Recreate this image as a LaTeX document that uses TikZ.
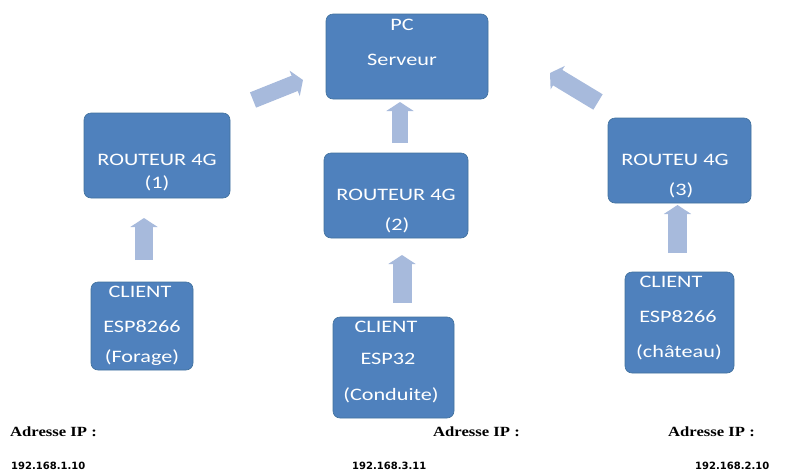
\documentclass[tikz,border=0pt]{standalone}
\usepackage{fontspec}
\usetikzlibrary{arrows.meta}
\newfontfamily\bxfont[FakeStretch=1.27]{Carlito}
\newfontfamily\adrfont[FakeStretch=1.19]{Liberation Serif}
\newfontfamily\ipfont{DejaVu Sans}
\definecolor{boxblue}{HTML}{4F81BD}
\definecolor{boxedge}{HTML}{41719C}
\definecolor{arrowblue}{HTML}{A7BADC}
\tikzset{
  box/.style={draw=boxedge, line width=0.6pt, fill=boxblue, rounded corners=7pt, inner sep=0pt},
  btxt/.style={text=white, font=\bxfont\fontsize{17.5}{20}\selectfont, inner sep=0pt},
  adr/.style={font=\adrfont\bfseries\fontsize{14}{16}\selectfont, inner sep=0pt},
  ip/.style={font=\ipfont\bfseries\fontsize{10}{12}\selectfont, inner sep=0pt},
  blockarrow/.style={draw=arrowblue, line width=#1, -{Triangle[width=27pt,length=9pt]}},
  blockarrow/.default=17pt
}
\begin{document}
\begin{tikzpicture}[x=1pt,y=-1pt]
\useasboundingbox (0,0) rectangle (788,472);
% boxes
\node[box, minimum width=162pt, minimum height=85pt] (pc) at (407,56.5) {};
\node[box, minimum width=146pt, minimum height=85pt] (r1) at (157,155.5) {};
\node[box, minimum width=144pt, minimum height=85pt] (r2) at (396,195.5) {};
\node[box, minimum width=143pt, minimum height=85pt] (r3) at (679.5,160.5) {};
\node[box, minimum width=102pt, minimum height=88pt] (c1) at (142,326) {};
\node[box, minimum width=121pt, minimum height=101pt] (c2) at (393.5,367.5) {};
\node[box, minimum width=109pt, minimum height=101pt] (c3) at (679.5,322.5) {};
% box texts
\node[btxt] (pct1) at (402,25) {PC};
\node[btxt] (pct2) at (402,60) {Serveur};
\node[btxt] (r1t1) at (157,160) {ROUTEUR 4G};
\node[btxt] (r1t2) at (157,183) {(1)};
\node[btxt] (r2t1) at (396,195) {ROUTEUR 4G};
\node[btxt] (r2t2) at (397,225) {(2)};
\node[btxt] (r3t1) at (675,160) {ROUTEU 4G};
\node[btxt] (r3t2) at (681,190) {(3)};
\node[btxt] (c1t1) at (140,292) {CLIENT};
\node[btxt] (c1t2) at (142,327) {ESP8266};
\node[btxt] (c1t3) at (142,358) {(Forage)};
\node[btxt] (c2t1) at (386,327) {CLIENT};
\node[btxt] (c2t2) at (388,359) {ESP32};
\node[btxt] (c2t3) at (391,395) {(Conduite)};
\node[btxt] (c3t1) at (671,282) {CLIENT};
\node[btxt] (c3t2) at (678,317) {ESP8266};
\node[btxt] (c3t3) at (679,352) {(château)};
% arrow end points
\coordinate (a1t) at (144,260);
\coordinate (a1h) at (144,218);
\coordinate (a2t) at (402,303);
\coordinate (a2h) at (402,255);
\coordinate (a3t) at (677.5,253);
\coordinate (a3h) at (677.5,205);
\coordinate (a4t) at (400,143);
\coordinate (a4h) at (400,102);
\coordinate (a5t) at (253,100);
\coordinate (a5h) at (303,80);
\coordinate (a6t) at (598,102);
\coordinate (a6h) at (550,73);
% arrows
\draw[blockarrow=18pt] (a1t) -- (a1h);
\draw[blockarrow=19pt] (a2t) -- (a2h);
\draw[blockarrow=19pt] (a3t) -- (a3h);
\draw[blockarrow=16pt] (a4t) -- (a4h);
\draw[blockarrow=16.5pt] (a5t) -- (a5h);
\draw[blockarrow=18pt] (a6t) -- (a6h);
% address labels
\node[adr, anchor=west] (ad1) at (10,432) {Adresse IP :};
\node[adr, anchor=west] (ad2) at (433,432) {Adresse IP :};
\node[adr, anchor=west] (ad3) at (668,432) {Adresse IP :};
\node[ip, anchor=west] (ip1) at (11,466) {192.168.1.10};
\node[ip, anchor=west] (ip2) at (352,466) {192.168.3.11};
\node[ip, anchor=west] (ip3) at (695,466) {192.168.2.10};
\end{tikzpicture}
\end{document}
